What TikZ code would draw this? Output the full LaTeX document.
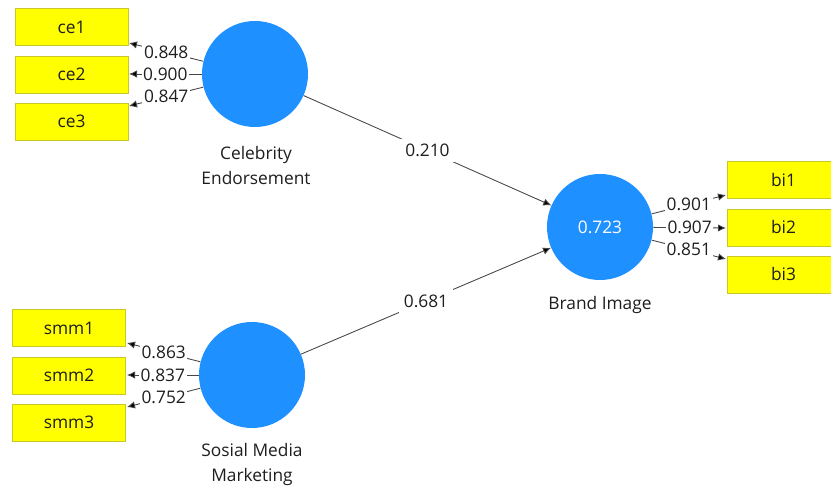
\documentclass[tikz,border=0pt]{standalone}
\usepackage{fontspec}
\setmainfont{Open Sans}
\usetikzlibrary{arrows.meta}
\definecolor{lvblue}{RGB}{30,144,255}
\definecolor{mvyellow}{RGB}{255,255,0}
\definecolor{mvborder}{RGB}{200,200,40}
\definecolor{linegray}{RGB}{70,70,70}
\definecolor{txt}{RGB}{30,30,30}
\tikzset{
  latent/.style={circle, fill=lvblue, draw=none, minimum size=79.5pt, inner sep=0pt, text=white, font=\fontsize{13}{15}\selectfont},
  indicator/.style={rectangle, fill=mvyellow, draw=mvborder, line width=0.6pt, minimum width=84.75pt, minimum height=27.75pt, inner sep=0pt, text=txt, font=\fontsize{13}{15}\selectfont},
  caption/.style={align=center, text=txt, font=\fontsize{13}{18.75}\selectfont},
  arr/.style={draw=linegray, line width=0.65pt, -{Latex[length=6pt,width=5.5pt,fill=black]}},
  lab/.style={fill=white, inner sep=1.2pt, text=txt, font=\fontsize{13}{15}\selectfont},
}
\begin{document}
\begin{tikzpicture}[x=0.75pt, y=-0.75pt]
\useasboundingbox (0,0) rectangle (831,491);
\fill[white] (0,0) rectangle (831,491);
% latent variables
\node[latent] (ce) at (255,74) {};
\node[latent] (smm) at (252,375) {};
\node[latent] (bi) at (600,227) {0.723};
\node[caption] (cecap) at (256,165.5) {Celebrity\\Endorsement};
\node[caption] (smmcap) at (252,464.5) {Sosial Media\\Marketing};
\node[caption] (bicap) at (600,305) {Brand Image};
% indicators
\node[indicator] (ce1) at (71.5,27) {ce1};
\node[indicator] (ce2) at (71.5,74.5) {ce2};
\node[indicator] (ce3) at (71.5,121.5) {ce3};
\node[indicator] (smm1) at (69,328) {smm1};
\node[indicator] (smm2) at (69,375.5) {smm2};
\node[indicator] (smm3) at (69,422.5) {smm3};
\node[indicator] (bi1) at (783.5,180) {bi1};
\node[indicator] (bi2) at (783.5,227.5) {bi2};
\node[indicator] (bi3) at (783.5,274.5) {bi3};
% arrow end points
\coordinate (tce1) at (129,43);
\coordinate (tce2) at (129,74);
\coordinate (tce3) at (129,106);
\coordinate (tsmm1) at (127,343);
\coordinate (tsmm2) at (127,375);
\coordinate (tsmm3) at (127,407);
\coordinate (tbi1) at (726,195);
\coordinate (tbi2) at (726,228);
\coordinate (tbi3) at (726,259);
% outer loadings
\draw[arr] (ce) -- (tce1) node[midway, lab] {0.848};
\draw[arr] (ce) -- (tce2) node[midway, lab] {0.900};
\draw[arr] (ce) -- (tce3) node[midway, lab] {0.847};
\draw[arr] (smm) -- (tsmm1) node[midway, lab] {0.863};
\draw[arr] (smm) -- (tsmm2) node[midway, lab] {0.837};
\draw[arr] (smm) -- (tsmm3) node[midway, lab] {0.752};
\draw[arr] (bi) -- (tbi1) node[midway, lab] {0.901};
\draw[arr] (bi) -- (tbi2) node[midway, lab] {0.907};
\draw[arr] (bi) -- (tbi3) node[midway, lab] {0.851};
% path coefficients
\draw[arr] (ce) -- (bi) node[midway, lab, inner sep=4pt] {0.210};
\draw[arr] (smm) -- (bi) node[midway, lab, inner sep=4pt] {0.681};
\end{tikzpicture}
\end{document}
